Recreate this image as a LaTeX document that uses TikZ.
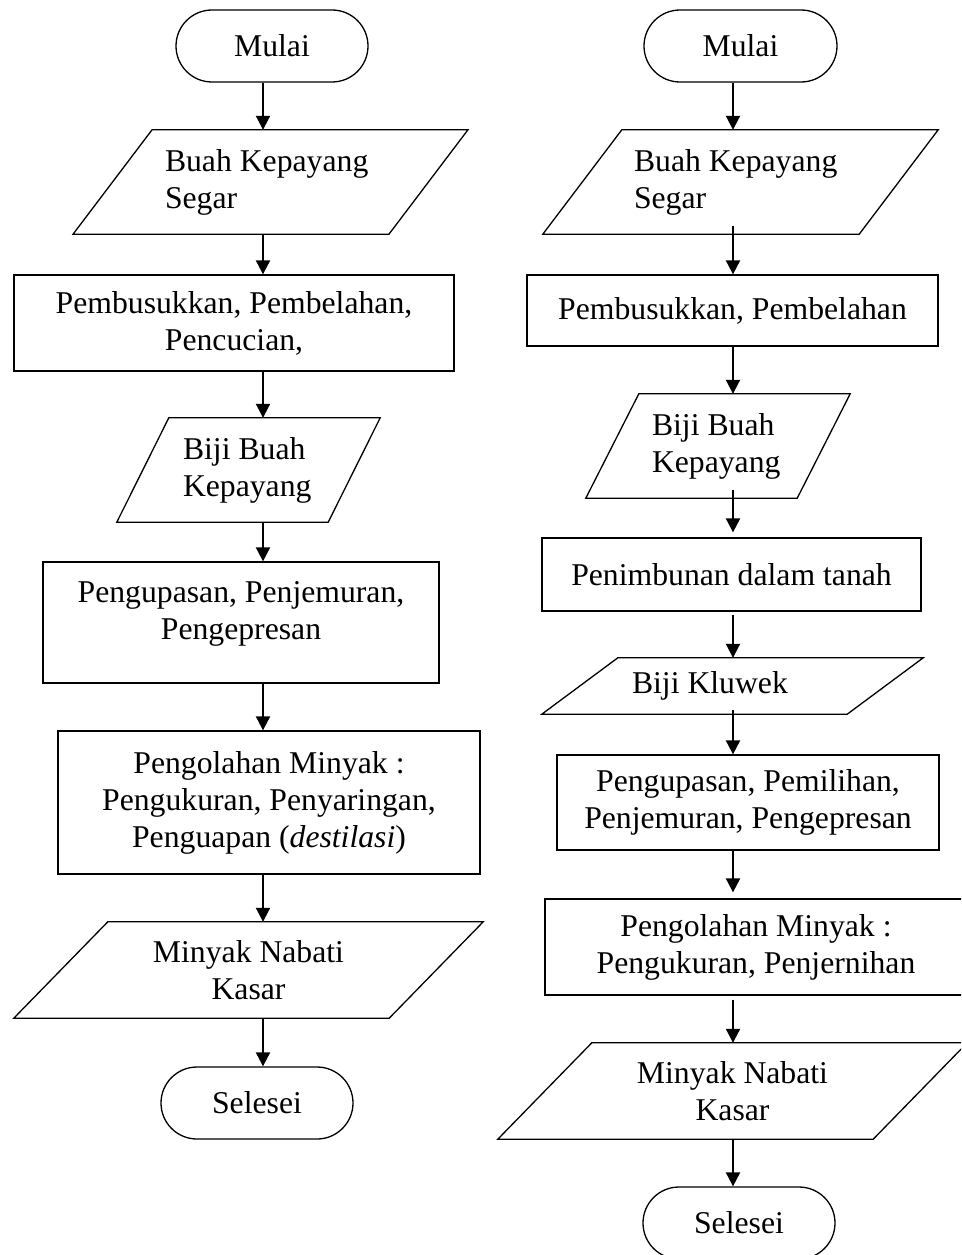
\documentclass[tikz,border=0pt]{standalone}
\usepackage{fontspec}
\setmainfont{Liberation Serif}
\usetikzlibrary{arrows.meta}

% slanted frame drawn round a node: #1 node, #2 half the slant
\newcommand{\ioframe}[2]{%
  \draw[shapeline] ([xshift=-#2pt]#1.south west) -- ([xshift=#2pt]#1.north west)
    -- ([xshift=#2pt]#1.north east) -- ([xshift=-#2pt]#1.south east) -- cycle;}

\begin{document}
\begin{tikzpicture}[x=1pt, y=-1pt]
\tikzstyle{every node} = [inner sep=0, font=\fontsize{31.7}{37}\selectfont]
\tikzstyle{shapeline} = [draw, line width=1.3]
\tikzstyle{term} = [shapeline, rounded corners=36, minimum width=192, minimum height=72]
\tikzstyle{proc} = [shapeline, align=center]
\tikzstyle{io} = [align=center, execute at begin node={\spaceskip=0pt\xspaceskip=0pt}]
\tikzstyle{flow} = [draw, line width=2, -{Triangle[length=14pt, width=14pt]}]
\useasboundingbox (0,0) rectangle (961,1255);
\clip (0,0) rectangle (961,1255);
\coordinate (colL) at (263,0);
\coordinate (colR) at (733,0);
\node[term] (L_mulai) at (272,46) {Mulai};
\node[io, align=left, text width=211, inner xsep=52.25, minimum height=104] (L_buah) at (270.5,182) {Buah Kepayang\\Segar};
\ioframe{L_buah}{39.5}
\node[proc, minimum width=440, minimum height=96] (L_pecah) at (234,323) {Pembusukkan, Pembelahan,\\Pencucian,};
\node[io, align=left, text width=131, inner xsep=40, minimum height=104] (L_biji) at (248.5,470) {Biji Buah\\Kepayang};
\ioframe{L_biji}{26}
\node[proc, minimum width=396, minimum height=121] (L_kupas) at (241,622.5) {Pengupasan, Penjemuran,\\Pengepresan\\[-12pt]\mbox{}};
\node[proc, minimum width=422, minimum height=143] (L_olah) at (269,802.5) {Pengolahan Minyak :\\Pengukuran, Penyaringan,\\Penguapan (\textit{destilasi})};
\node[io, minimum width=375, minimum height=96] (L_minyak) at (248.5,970) {Minyak Nabati\\Kasar};
\ioframe{L_minyak}{47}
\node[term] (L_selesai) at (257,1103) {Selesei};
\node[term, minimum width=193] (R_mulai) at (740.5,46) {Mulai};
\node[io, align=left, text width=213, inner xsep=51.5, minimum height=104] (R_buah) at (740.5,182) {Buah Kepayang\\Segar};
\ioframe{R_buah}{39.5}
\node[proc, minimum width=411, minimum height=71] (R_pecah) at (732.5,310.5) {Pembusukkan, Pembelahan};
\node[io, align=left, text width=132, inner xsep=39.5, minimum height=104] (R_biji) at (718,446) {Biji Buah\\Kepayang};
\ioframe{R_biji}{26.5}
\node[proc, minimum width=379, minimum height=73] (R_timbun) at (731.5,574.5) {Penimbunan dalam tanah};
\node[io, align=left, text width=201, inner xsep=52, minimum height=56] (R_kluwek) at (732.5,686) {Biji Kluwek};
\ioframe{R_kluwek}{38}
\node[proc, minimum width=382, minimum height=95] (R_kupas) at (748,802.5) {Pengupasan, Pemilihan,\\Penjemuran, Pengepresan};
\node[proc, minimum width=422, minimum height=96] (R_olah) at (756,947) {Pengolahan Minyak :\\Pengukuran, Penjernihan};
\node[io, minimum width=375, minimum height=96] (R_minyak) at (732.5,1091) {Minyak Nabati\\Kasar};
\ioframe{R_minyak}{47}
\node[term] (R_selesai) at (739,1223) {Selesei};
\draw[flow] (L_mulai.south -| colL) -- (L_buah.north -| colL);
\draw[flow] (L_buah.south -| colL) -- (L_pecah.north -| colL);
\draw[flow] (L_pecah.south -| colL) -- (L_biji.north -| colL);
\draw[flow] (L_biji.south -| colL) -- (L_kupas.north -| colL);
\draw[flow] (L_kupas.south -| colL) -- (L_olah.north -| colL);
\draw[flow] (L_olah.south -| colL) -- (L_minyak.north -| colL);
\draw[flow] (L_minyak.south -| colL) -- (L_selesai.north -| colL);
\draw[flow] (R_mulai.south -| colR) -- (R_buah.north -| colR);
\draw[flow] ([yshift=8pt]R_buah.south -| colR) -- (R_pecah.north -| colR);
\draw[flow] (R_pecah.south -| colR) -- (R_biji.north -| colR);
\draw[flow, shorten >=5pt] ([yshift=8pt]R_biji.south -| colR) -- (R_timbun.north -| colR);
\draw[flow, shorten <=3pt] (R_timbun.south -| colR) -- (R_kluwek.north -| colR);
\draw[flow] ([yshift=4pt]R_kluwek.south -| colR) -- (R_kupas.north -| colR);
\draw[flow, shorten >=6pt] (R_kupas.south -| colR) -- (R_olah.north -| colR);
\draw[flow, shorten <=4pt] (R_olah.south -| colR) -- (R_minyak.north -| colR);
\draw[flow] (R_minyak.south -| colR) -- (R_selesai.north -| colR);
\end{tikzpicture}
\end{document}
